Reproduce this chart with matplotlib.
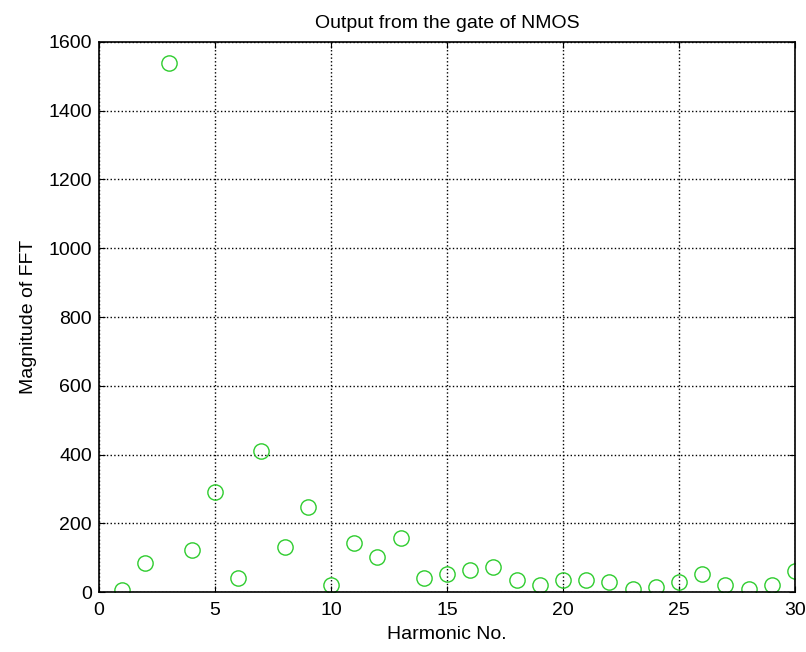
import matplotlib
matplotlib.use("Agg")
import matplotlib.pyplot as plt

harmonic = list(range(1, 31))
magnitude = [5, 84, 1539, 121, 292, 42, 409, 130, 246, 19,
             143, 101, 158, 41, 52, 65, 73, 34, 19, 34,
             34, 29, 10, 15, 29, 52, 19, 10, 19, 61]

plt.rcParams['font.family'] = ['Liberation Sans', 'DejaVu Sans']

fig = plt.figure(figsize=(8.06, 6.52), dpi=100)
ax = fig.add_axes([0.1228, 0.092, 0.8635, 0.8436])

ax.plot(harmonic, magnitude, linestyle='none', marker='o', markersize=11,
        markerfacecolor='none', markeredgecolor='#2ecc2e', markeredgewidth=1.0)

ax.set_xlim(0, 30)
ax.set_ylim(0, 1600)
ax.set_xticks(range(0, 31, 5))
ax.set_yticks(range(0, 1601, 200))
ax.grid(True, color='black', linestyle=':', linewidth=1.0)
ax.tick_params(direction='in', top=True, right=True, labelsize=14, length=4)
ax.tick_params(axis='x', pad=7)
ax.tick_params(axis='y', pad=5)
for s in ax.spines.values():
    s.set_linewidth(1.2)

ax.set_title('Output from the gate of NMOS', fontsize=14, pad=10)
ax.set_xlabel('Harmonic No.', fontsize=14, labelpad=5)
ax.set_ylabel('Magnitude of FFT', fontsize=14, labelpad=8)

fig.savefig('out.png', dpi=100)
